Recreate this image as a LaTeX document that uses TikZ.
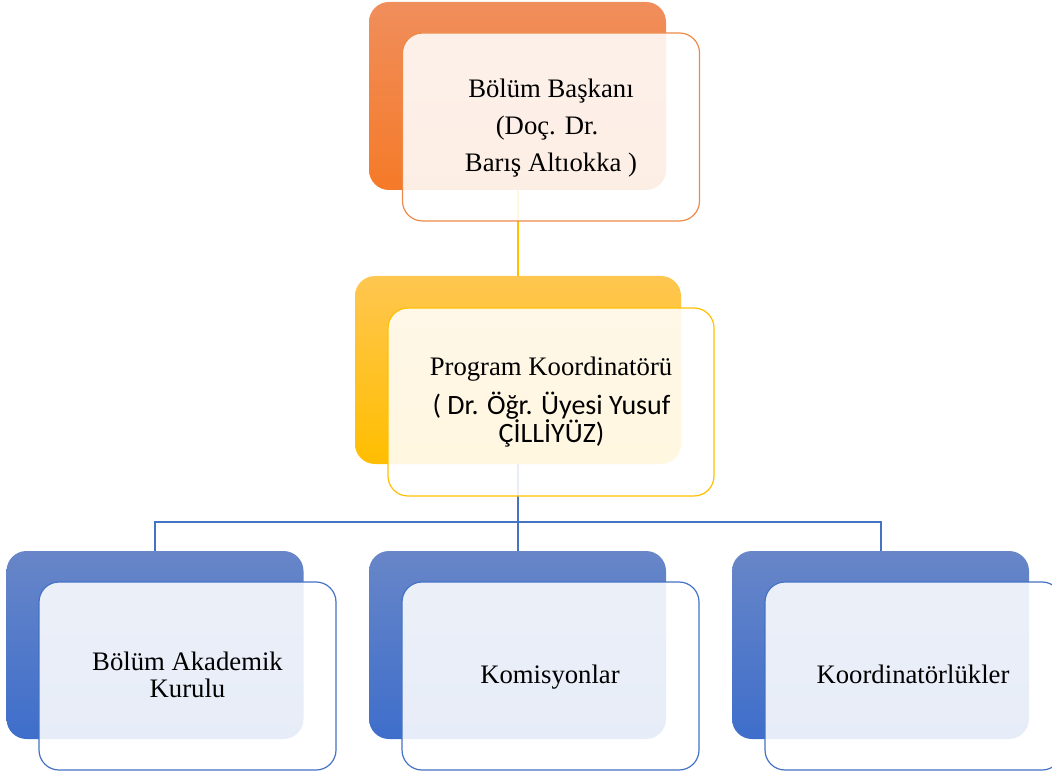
\documentclass[tikz,border=0pt]{standalone}
\usepackage{fontspec}
\setmainfont{Liberation Serif}
\newfontfamily\carlito{Carlito}
\definecolor{orTop}{RGB}{240,142,92}
\definecolor{orBot}{RGB}{245,122,40}
\definecolor{orLine}{RGB}{238,138,72}
\definecolor{yeTop}{RGB}{255,198,80}
\definecolor{yeBot}{RGB}{255,190,0}
\definecolor{yeLine}{RGB}{255,192,0}
\definecolor{blTop}{RGB}{104,134,200}
\definecolor{blBot}{RGB}{62,110,203}
\definecolor{blLine}{RGB}{68,114,196}
\tikzset{
  x=1pt,y=-1pt,
  backbox/.style={rectangle,rounded corners=20pt,inner sep=0pt,outer sep=0pt,
     minimum width=297pt,minimum height=188pt},
  frontbox/.style={rectangle,rounded corners=20pt,inner sep=0pt,outer sep=0pt,
     minimum width=297pt,minimum height=188pt,fill=white,fill opacity=0.88,
     line width=1.2pt},
  txt/.style={anchor=base,inner sep=0pt,font=\fontsize{26.7}{30}\selectfont},
  ctxt/.style={anchor=base,inner sep=0pt,font=\carlito\fontsize{28}{30}\selectfont},
  conn/.style={line width=2pt}
}
\begin{document}
\begin{tikzpicture}
\useasboundingbox (0,0) rectangle (1052,775);
\begin{scope}
\clip (0,0) rectangle (1052,775);
% back boxes
\node[backbox,top color=orTop,bottom color=orBot] (b1) at (517.5,96) {};
\node[backbox,minimum width=326pt,top color=yeTop,bottom color=yeBot] (b2) at (518,370) {};
\node[backbox,top color=blTop,bottom color=blBot] (l1) at (155,645) {};
\node[backbox,top color=blTop,bottom color=blBot] (l2) at (517.5,645) {};
\node[backbox,top color=blTop,bottom color=blBot] (l3) at (880.5,645) {};
% connectors
\coordinate (j) at (518,522);
\draw[conn,yeLine] (b1.south) -- (b1.south |- b2.north);
\draw[conn,blLine] (b2.south) -- (j);
\draw[conn,blLine] (j) -| (l1.north);
\draw[conn,blLine] (j) -| (l3.north);
\draw[conn,blLine] (j) -- (j |- l2.north);
% front boxes
\node[frontbox,draw=orLine] (f1) at (551,127) {};
\node[frontbox,minimum width=326pt,draw=yeLine] (f2) at (551,402) {};
\node[frontbox,draw=blLine] (g1) at (187.5,676) {};
\node[frontbox,draw=blLine] (g2) at (550.5,676) {};
\node[frontbox,draw=blLine] (g3) at (913.5,676) {};
\end{scope}
% texts
\node[txt] (t1) at (551,98) {Bölüm Başkanı};
\node[txt] (t2) at (547,135) {(Doç. Dr.};
\node[txt] (t3) at (551,172) {Barış Altıokka )};
\node[txt] (t4) at (551,376) {Program Koordinatörü};
\node[ctxt] (t5) at (551.5,414) {( Dr. Öğr. Üyesi Yusuf};
\node[ctxt] (t6) at (551.5,442) {ÇİLLİYÜZ)};
\node[txt] (t7) at (187.5,670) {Bölüm Akademik};
\node[txt] (t8) at (187.5,697) {Kurulu};
\node[txt] (t9) at (550,683) {Komisyonlar};
\node[txt] (t10) at (913,683) {Koordinatörlükler};
\end{tikzpicture}
\end{document}
